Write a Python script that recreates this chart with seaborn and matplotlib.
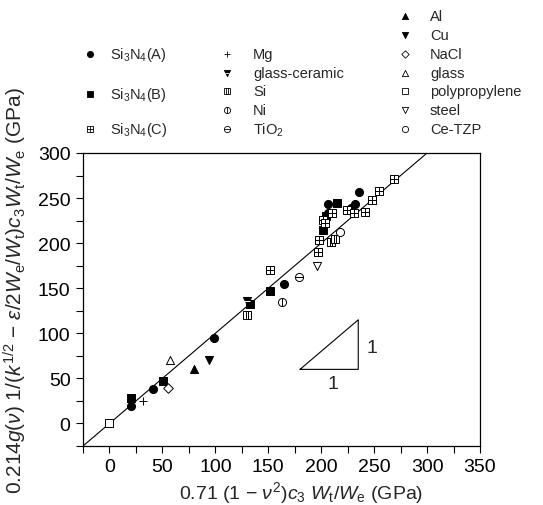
import numpy as np
import pandas as pd
import matplotlib
matplotlib.use('Agg')
import matplotlib.pyplot as plt
from matplotlib.path import Path
from matplotlib.ticker import MultipleLocator
import seaborn as sns

# values (GPa)
si3n4_a_x = [20, 41, 99, 165, 206, 206, 228, 229, 232, 236]
si3n4_a_y = [19, 38, 95, 155, 243, 234, 239, 236, 243, 257]
si3n4_b_x = [20, 51, 133, 152, 202, 205, 215]
si3n4_b_y = [28, 47, 133, 147, 215, 230, 244]
si3n4_c_x = [152, 197, 198, 202, 204, 210, 224, 231, 241, 248, 255, 269]
si3n4_c_y = [170, 190, 204, 226, 222, 234, 237, 233, 235, 248, 258, 271]
mg_x, mg_y = [32], [25]
glass_ceramic_x, glass_ceramic_y = [130], [136]
si_x, si_y = [130, 209, 213], [120, 201, 205]
ni_x, ni_y = [163], [135]
tio2_x, tio2_y = [179], [163]
al_x, al_y = [80], [60]
cu_x, cu_y = [94], [70]
nacl_x, nacl_y = [55], [39]
glass_x, glass_y = [57], [70]
pp_x, pp_y = [0], [0]
steel_x, steel_y = [196], [175]
cetzp_x, cetzp_y = [218], [212]

x_ticks = [0, 50, 100, 150, 200, 250, 300, 350]
y_ticks = [0, 50, 100, 150, 200, 250, 300]

LABELS = ['Si$_3$N$_4$(A)', 'Si$_3$N$_4$(B)', 'Si$_3$N$_4$(C)',
          'Mg', 'glass-ceramic', 'Si', 'Ni', 'TiO$_2$',
          'Al', 'Cu', 'NaCl', 'glass', 'polypropylene', 'steel', 'Ce-TZP']
XS = [si3n4_a_x, si3n4_b_x, si3n4_c_x, mg_x, glass_ceramic_x, si_x, ni_x, tio2_x,
      al_x, cu_x, nacl_x, glass_x, pp_x, steel_x, cetzp_x]
YS = [si3n4_a_y, si3n4_b_y, si3n4_c_y, mg_y, glass_ceramic_y, si_y, ni_y, tio2_y,
      al_y, cu_y, nacl_y, glass_y, pp_y, steel_y, cetzp_y]

df = pd.concat([pd.DataFrame({'material': m, 'x': x, 'y': y})
                for m, x, y in zip(LABELS, XS, YS)], ignore_index=True)

# custom marker glyphs
sq = [(-1, -1), (1, -1), (1, 1), (-1, 1), (-1, -1)]
sq_codes = [Path.MOVETO] + [Path.LINETO] * 3 + [Path.CLOSEPOLY]
GRID_SQ = Path(sq + [(0, -1), (0, 1), (-1, 0), (1, 0)],
               sq_codes + [Path.MOVETO, Path.LINETO, Path.MOVETO, Path.LINETO])
SI_SQ = Path(sq + [(-0.35, -1), (-0.35, 1), (0.35, -1), (0.35, 1)],
             sq_codes + [Path.MOVETO, Path.LINETO, Path.MOVETO, Path.LINETO])
NI_C = Path.make_compound_path(Path.unit_circle(), Path([(0, -1), (0, 1)]))
TIO2_C = Path.make_compound_path(Path.unit_circle(), Path([(-1, 0), (1, 0)]))

K, W = 'k', 'w'
SPECS = {
    'Si$_3$N$_4$(A)': [dict(marker='o', facecolor=K, edgecolor=K)],
    'Si$_3$N$_4$(B)': [dict(marker='s', facecolor=K, edgecolor=K)],
    'Si$_3$N$_4$(C)': [dict(marker=GRID_SQ, facecolor=W, edgecolor=K)],
    'Mg': [dict(marker='+', color=K)],
    'glass-ceramic': [dict(marker='v', facecolor=K, edgecolor=K),
                      dict(marker='_', color=W, scale=0.5)],
    'Si': [dict(marker=SI_SQ, facecolor=W, edgecolor=K)],
    'Ni': [dict(marker=NI_C, facecolor=W, edgecolor=K)],
    'TiO$_2$': [dict(marker=TIO2_C, facecolor=W, edgecolor=K)],
    'Al': [dict(marker='^', facecolor=K, edgecolor=K)],
    'Cu': [dict(marker='v', facecolor=K, edgecolor=K)],
    'NaCl': [dict(marker='D', facecolor=W, edgecolor=K, scale=0.7)],
    'glass': [dict(marker='^', facecolor=W, edgecolor=K)],
    'polypropylene': [dict(marker='s', facecolor=W, edgecolor=K)],
    'steel': [dict(marker='v', facecolor=W, edgecolor=K)],
    'Ce-TZP': [dict(marker='o', facecolor=W, edgecolor=K)],
}

sns.set_style('ticks')
plt.rcParams['font.family'] = ['Liberation Sans', 'DejaVu Sans']
plt.rcParams['mathtext.fontset'] = 'custom'
plt.rcParams['mathtext.rm'] = 'Liberation Sans'
plt.rcParams['mathtext.it'] = 'Liberation Sans:italic'
plt.rcParams['mathtext.bf'] = 'Liberation Sans:bold'

fig = plt.figure(figsize=(5.43, 5.06), dpi=100)
ax = fig.add_axes([83 / 543, 59 / 506, 397 / 543, 293 / 506])

SIZE = 34
for mat in LABELS:
    sub = df[df.material == mat]
    for layer in SPECS[mat]:
        kw = dict(layer)
        sc = kw.pop('scale', 1.0)
        sns.scatterplot(data=sub, x='x', y='y', ax=ax, s=SIZE * sc,
                        linewidth=0.7, legend=False, zorder=3, **kw)

# y = x guide line
ax.plot([-25, 300], [-25, 300], color='k', lw=0.8, zorder=2)
# slope triangle
ax.plot([180, 235, 235, 180], [60, 60, 115, 60], color='k', lw=0.8)
ax.text(243, 84, '1', fontsize=14, ha='left', va='center')
ax.text(211, 44, '1', fontsize=14, ha='center', va='center')

ax.set_xlim(-25, 350)
ax.set_ylim(-25, 300)
ax.set_xticks(x_ticks)
ax.set_yticks(y_ticks)
ax.xaxis.set_minor_locator(MultipleLocator(25))
ax.yaxis.set_minor_locator(MultipleLocator(25))
ax.tick_params(which='both', direction='out', length=5, width=0.8,
               labelsize=14, colors='k', pad=4)
for sp in ax.spines.values():
    sp.set_linewidth(0.9)
    sp.set_color('k')

ax.set_xlabel(r'0.71 (1 $-$ $\nu^2$)$c_3$ $W_{\rm t}/W_{\rm e}$ (GPa)', fontsize=14)
ax.set_ylabel(r'0.214$g(\nu)$ 1/($k^{1/2}$ $-$ $\varepsilon$/2$W_{\rm e}/W_{\rm t}$)'
              r'$c_3W_{\rm t}/W_{\rm e}$ (GPa)', fontsize=15)
ax.xaxis.set_label_coords(0.55, -0.112)
ax.yaxis.set_label_coords(-0.137, 0.532)

# legend laid out in three columns above the plot (pixel layout)
lax = fig.add_axes([0, 0, 1, 1], zorder=-1)
lax.set_xlim(0, 543)
lax.set_ylim(506, 0)
lax.axis('off')
columns = [
    (90, 110, LABELS[0:3], [55, 95, 130]),
    (227, 253, LABELS[3:8], [55, 74, 92, 111, 130]),
    (405, 430, LABELS[8:15], [17, 36, 55, 74, 92, 111, 130]),
]
for mx, tx, mats, rows in columns:
    for mat, ry in zip(mats, rows):
        for layer in SPECS[mat]:
            kw = dict(layer)
            sc = kw.pop('scale', 1.0)
            lax.scatter([mx], [ry], s=20 * sc, linewidths=0.6, **kw)
        lax.text(tx, ry, mat, fontsize=10.5, va='center', ha='left')

fig.savefig('out.png', dpi=100)
